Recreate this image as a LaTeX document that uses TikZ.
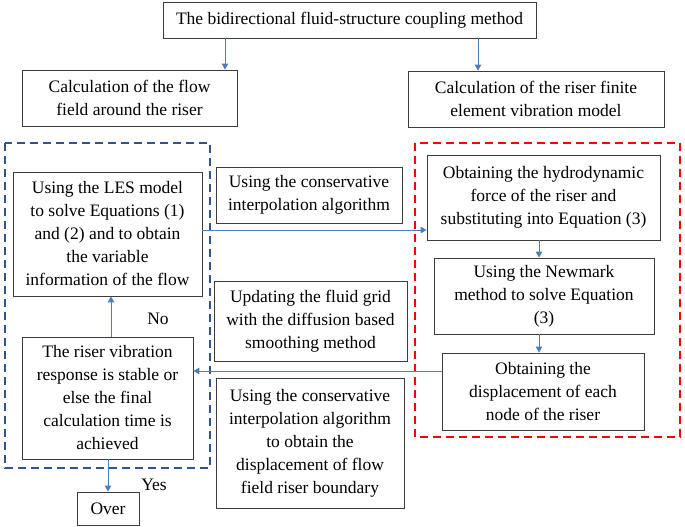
\documentclass[tikz,border=0pt]{standalone}
\usepackage{fontspec}
\setmainfont{Liberation Serif}
\usetikzlibrary{arrows.meta}
\definecolor{arrowblue}{RGB}{74,126,187}
\definecolor{groupblue}{RGB}{47,85,140}
\definecolor{boxline}{RGB}{60,60,60}
\begin{document}
\begin{tikzpicture}[x=1pt,y=-1pt,
  box/.style={draw=boxline, line width=0.8pt, align=center, inner sep=0pt,
    font=\fontsize{17.5}{23}\selectfont},
  lbl/.style={inner sep=0pt, font=\fontsize{17.5}{23}\selectfont},
  arr/.style={draw=arrowblue, line width=0.9pt, -{Triangle[length=6pt,width=6.5pt]}},
  bluegroup/.style={draw=groupblue, line width=2.4pt, dash pattern=on 8pt off 5pt},
  redgroup/.style={draw=red, line width=2.4pt, dash pattern=on 8pt off 5pt}]
\useasboundingbox (0,0) rectangle (685,527);
\fill[white] (0,0) rectangle (685,527);

% group frames
\draw[bluegroup] (5,143) rectangle (210,468);
\draw[redgroup] (415,143) rectangle (680,437);

% boxes
\node[box, minimum width=373pt, minimum height=36pt] (top) at (349.5,20) {The bidirectional fluid-structure coupling method};
\node[box, minimum width=215pt, minimum height=56pt] (calcL) at (129.5,98) {Calculation of the flow\\field around the riser};
\node[box, minimum width=256pt, minimum height=56pt] (calcR) at (536,99) {Calculation of the riser finite\\element vibration model};
\node[box, minimum width=189pt, minimum height=124pt] (les) at (107.5,234) {Using the LES model\\to solve Equations (1)\\and (2) and to obtain\\the variable\\information of the flow};
\node[box, minimum width=186pt, minimum height=56pt] (cons1) at (309,195) {Using the conservative\\interpolation algorithm};
\node[box, minimum width=233pt, minimum height=85pt] (hydro) at (543.5,197.5) {Obtaining the hydrodynamic\\force of the riser and\\substituting into Equation (3)};
\node[box, minimum width=220pt, minimum height=76pt] (newmark) at (544,296) {Using the Newmark\\method to solve Equation\\(3)};
\node[box, minimum width=202pt, minimum height=77pt] (disp) at (543,391.5) {Obtaining the\\displacement of each\\node of the riser};
\node[box, minimum width=193pt, minimum height=80pt] (update) at (310.5,321) {Updating the fluid grid\\with the diffusion based\\smoothing method};
\node[box, minimum width=171pt, minimum height=122pt] (riser) at (107.5,398) {The riser vibration\\response is stable or\\else the final\\calculation time is\\achieved};
\node[box, minimum width=188pt, minimum height=130pt] (cons2) at (310,443) {Using the conservative\\interpolation algorithm\\to obtain the\\displacement of flow\\field riser boundary};
\node[box, minimum width=62pt, minimum height=33pt] (over) at (108,508.5) {Over};

% labels
\node[lbl] (no) at (158,319) {No};
\node[lbl] (yes) at (154,485) {Yes};

% anchor coordinates
\coordinate (xa) at (225,0);
\coordinate (xb) at (478,0);
\coordinate (xc) at (539,0);
\coordinate (xd) at (111,0);
\coordinate (xe) at (108,0);
\coordinate (ya) at (0,230);
\coordinate (yb) at (0,371);

% connectors
\draw[arr] (top.south -| xa) -- (calcL.north -| xa);
\draw[arr] (top.south -| xb) -- (calcR.north -| xb);
\draw[arr] (les.east |- ya) -- (hydro.west |- ya);
\draw[arr] (hydro.south -| xc) -- (newmark.north -| xc);
\draw[arr] (newmark.south -| xc) -- (disp.north -| xc);
\draw[arr] (disp.west |- yb) -- (riser.east |- yb);
\draw[arr] (riser.north -| xd) -- (les.south -| xd);
\draw[arr] (riser.south -| xe) -- (over.north -| xe);
\end{tikzpicture}
\end{document}
